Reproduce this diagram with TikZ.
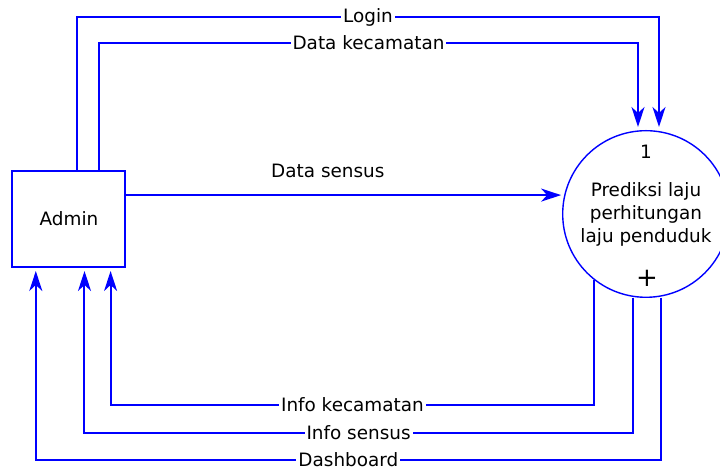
\documentclass[tikz,border=0pt]{standalone}
\usepackage{fontspec}
\setmainfont{DejaVu Sans}
\usetikzlibrary{arrows.meta, calc}
\tikzset{
  flow/.style = {draw=blue, line width=1pt, shorten >=1.5pt, -{Stealth[length=10pt, width=6.5pt, inset=3pt]}},
  flowlabel/.style = {fill=white, inner sep=1pt, text=black},
}

\begin{document}
\begin{tikzpicture}[x=0.5pt, y=0.5pt, font=\fontsize{9.2}{11.5}\selectfont]
\useasboundingbox (0,0) rectangle (720,470);
\node[draw=blue, line width=1pt, minimum width=56.5pt, minimum height=48pt] (admin) at (69,251) {Admin};
\node[draw=blue, line width=0.7pt, circle, minimum size=83.3pt, inner sep=0pt] (proc) at (646,256) {};
\node[align=center] (proctext) at (proc) {Prediksi laju\\perhitungan\\laju penduduk};
\node (procnum) at (646,318) {1};
\node (procplus) at (647,192) {\fontsize{13}{13}\selectfont +};

\draw[flow] (77,0 |- admin.north) -- (77,453) -- node[flowlabel]{Login} (659,453) -- (659,0 |- proc.north);
\draw[flow] (99,0 |- admin.north) -- (99,427) -- node[flowlabel]{Data kecamatan} (638,427) -- (638,0 |- proc.north);
\draw[flow] (admin.east |- proc.167) -- node[above=5pt, pos=0.46]{Data sensus} (proc.167);
\draw[flow] (proc.232) -- (proc.232 |- 0,65) -- node[flowlabel]{Info kecamatan} (110.6,65) -- (110.6,0 |- admin.south);
\draw[flow] (632.7,0 |- proc.south) -- (632.7,37) -- node[flowlabel]{Info sensus} (84.5,37) -- (84.5,0 |- admin.south);
\draw[flow] (661,0 |- proc.south) -- (661,10) -- node[flowlabel]{Dashboard} (35.8,10) -- (35.8,0 |- admin.south);
\end{tikzpicture}
\end{document}
